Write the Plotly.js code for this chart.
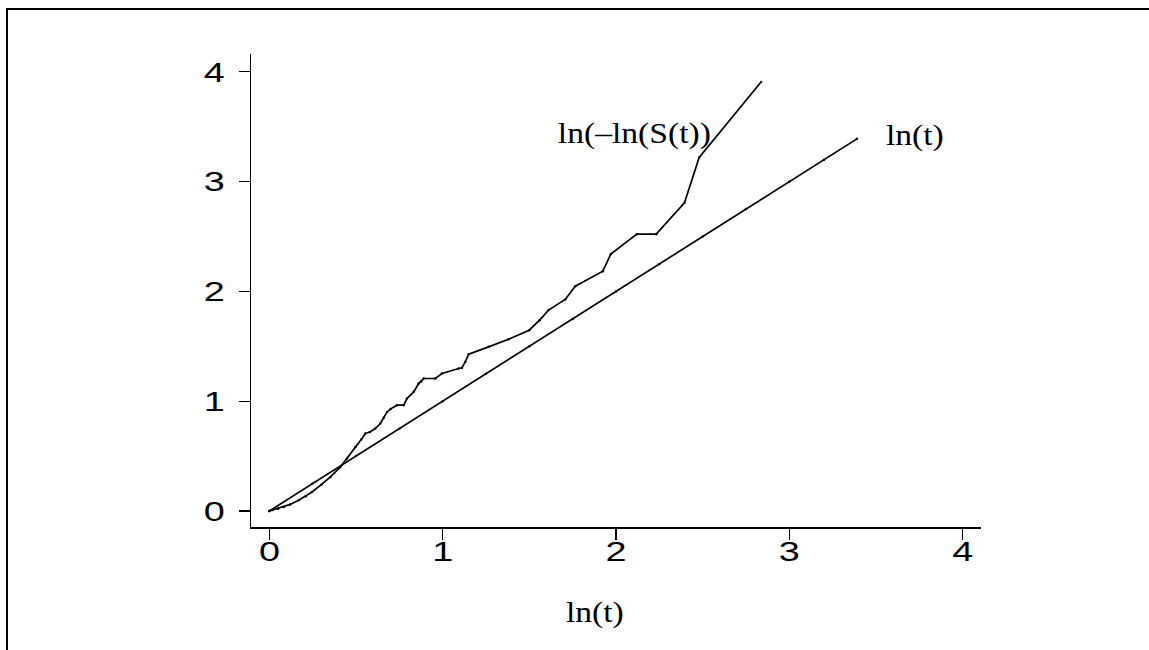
<!DOCTYPE html>
<html>
<head>
<meta charset="utf-8">
<script src="https://cdn.plot.ly/plotly-3.0.1.min.js"></script>
<style>
html,body{margin:0;padding:0;background:#fff;}
#wrap{position:relative;width:1149px;height:650px;overflow:hidden;}
#chart{width:1149px;height:650px;}
#frame{position:absolute;left:6px;top:8px;width:1200px;height:700px;border:2.5px solid #000;pointer-events:none;box-sizing:border-box;}
</style>
</head>
<body>
<div id="wrap"><div id="chart"></div><div id="frame"></div></div>
<script>
// ln(t) reference line
const lineX = [0, 0.25, 0.5, 0.75, 1, 1.25, 1.5, 1.75, 2, 2.25, 2.5, 2.75, 3, 3.2, 3.39];
const lineY = [0, 0.25, 0.5, 0.75, 1, 1.25, 1.5, 1.75, 2, 2.25, 2.5, 2.75, 3, 3.2, 3.39];
// ln(-ln(S(t))) curve
const curveX = [0, 0.02, 0.05, 0.083, 0.12, 0.169, 0.21, 0.246, 0.30, 0.352,
  0.409, 0.448, 0.496, 0.53, 0.554, 0.58, 0.611, 0.64, 0.66, 0.679,
  0.70, 0.736, 0.775, 0.794, 0.833, 0.861, 0.875, 0.890, 0.957, 0.996,
  1.092, 1.111, 1.130, 1.150, 1.265, 1.380, 1.499, 1.559, 1.611, 1.707,
  1.765, 1.924, 1.970, 2.120, 2.232, 2.395, 2.480, 2.837];
const curveY = [0, 0.01, 0.02, 0.037, 0.06, 0.098, 0.135, 0.173, 0.24, 0.31,
  0.40, 0.478, 0.583, 0.65, 0.706, 0.72, 0.751, 0.797, 0.85, 0.902,
  0.93, 0.964, 0.964, 1.025, 1.085, 1.161, 1.18, 1.207, 1.207, 1.252,
  1.298, 1.304, 1.358, 1.428, 1.495, 1.565, 1.647, 1.738, 1.830, 1.927,
  2.048, 2.185, 2.340, 2.522, 2.522, 2.808, 3.221, 3.908];
const tickVals = [0, 1, 2, 3, 4];
const tickText = ["0", "1", "2", "3", "4"];
const curveLabel = "ln(–ln(S(t))";
const lineLabel = "ln(t)";
const xTitle = "ln(t)";

const serif = "Liberation Serif, Times New Roman, serif";
const sans = "Liberation Sans, Arial, sans-serif";

const traces = [
  {x: lineX, y: lineY, mode: "lines+markers", line: {color: "#000", width: 1.7},
   marker: {color: "#000", size: 2.5}, showlegend: false, hoverinfo: "skip"},
  {x: curveX, y: curveY, mode: "lines+markers", line: {color: "#000", width: 1.7, shape: "linear"},
   marker: {color: "#000", size: 2.5}, showlegend: false, hoverinfo: "skip"}
];

const axisCommon = {
  showline: true, linecolor: "#000", linewidth: 1.5,
  ticks: "outside", ticklen: 11, tickwidth: 1.2, tickcolor: "#000",
  showgrid: false, zeroline: false,
  tickvals: tickVals, ticktext: tickText,
  tickfont: {family: sans, size: 28, color: "#000"}
};

const layout = {
  width: 1149, height: 650,
  margin: {l: 251, r: 168, t: 54, b: 123, pad: 0},
  paper_bgcolor: "#fff", plot_bgcolor: "#fff",
  xaxis: Object.assign({}, axisCommon, {range: [-0.106, 4.106], ticklabelstandoff: -12}),
  yaxis: Object.assign({}, axisCommon, {range: [-0.146, 4.163], ticklabelstandoff: 8}),
  annotations: [
    {x: 2.105, y: 3.443, xref: "x", yref: "y", text: curveLabel, showarrow: false,
     font: {family: serif, size: 30, color: "#000"}, xanchor: "center", yanchor: "middle"},
    {x: 3.725, y: 3.424, xref: "x", yref: "y", text: lineLabel, showarrow: false,
     font: {family: serif, size: 30, color: "#000"}, xanchor: "center", yanchor: "middle"},
    {x: 1.88, y: -0.18, xref: "x", yref: "paper", text: xTitle, showarrow: false,
     font: {family: serif, size: 30, color: "#000"}, xanchor: "center", yanchor: "middle"}
  ]
};

function stretch(sel, factor) {
  document.querySelectorAll(sel).forEach(function (t) {
    const w = t.getComputedTextLength();
    if (w > 0) {
      t.setAttribute("textLength", (w * factor).toFixed(2));
      t.setAttribute("lengthAdjust", "spacingAndGlyphs");
    }
  });
}

Plotly.newPlot("chart", traces, layout, {staticPlot: true, displayModeBar: false}).then(function () {
  stretch("#chart g.xtick text", 1.35);
  stretch("#chart g.ytick text", 1.35);
  stretch("#chart g.annotation-text-g text", 1.12);
});
</script>
</body>
</html>
